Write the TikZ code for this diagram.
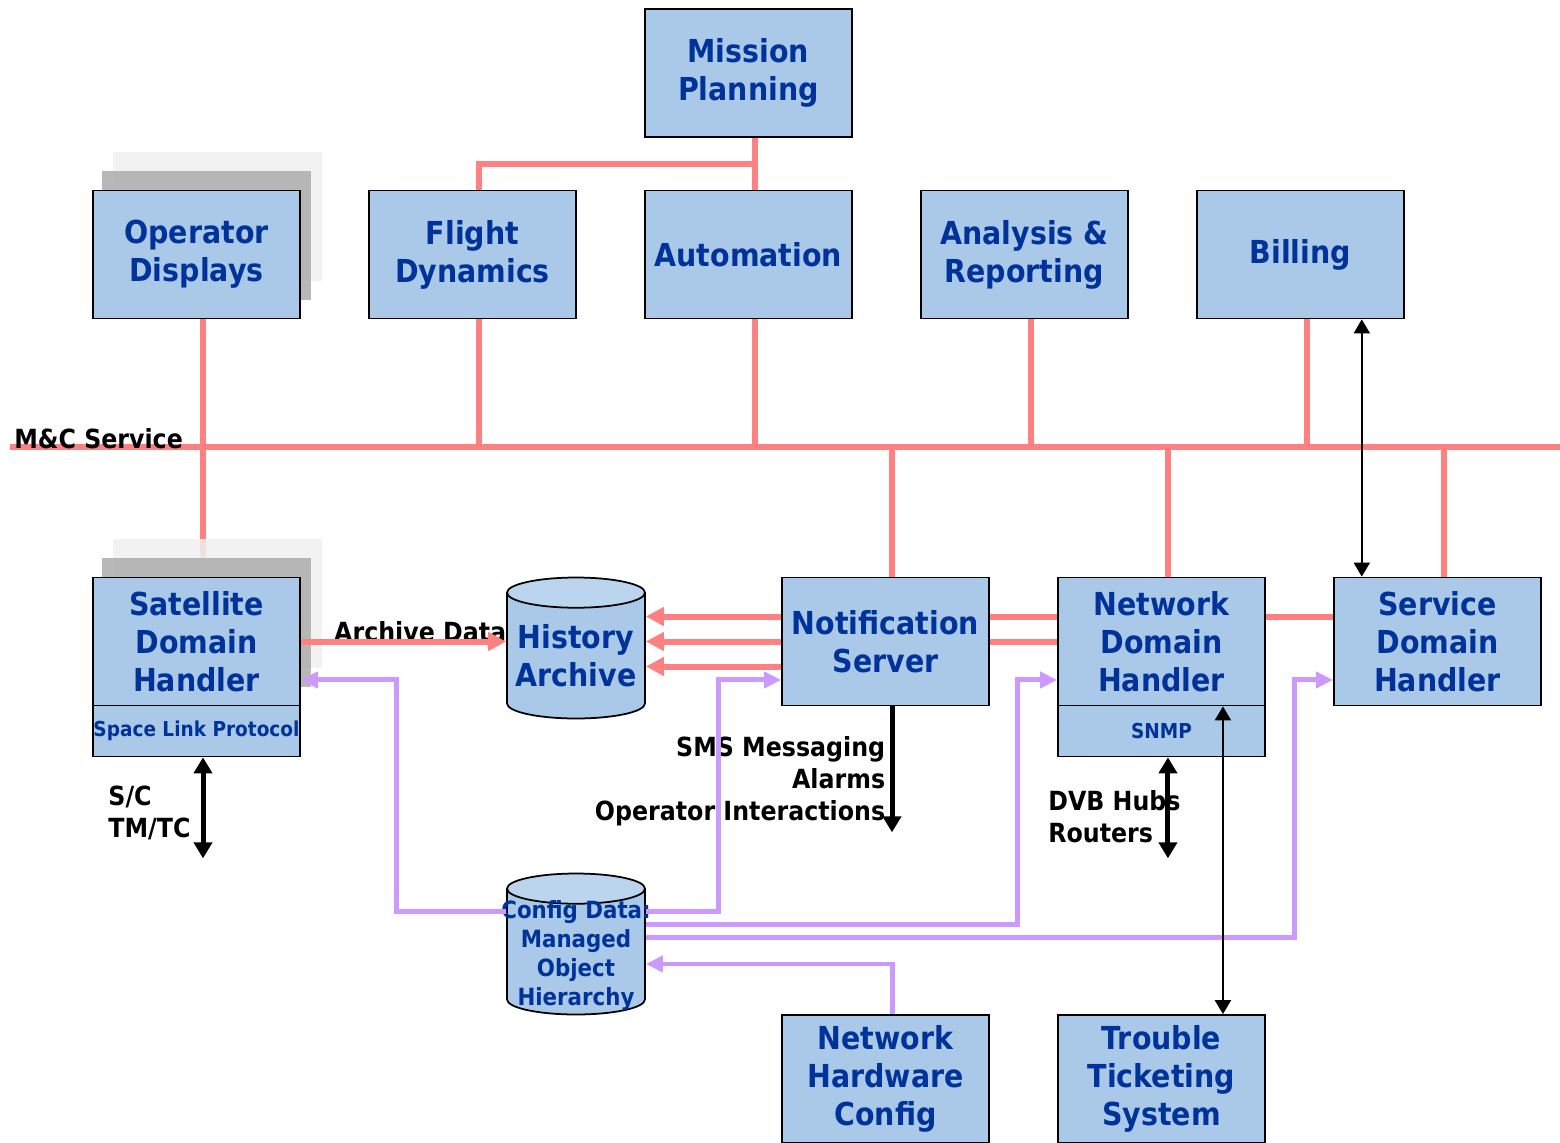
\documentclass[tikz,border=0pt]{standalone}
\usepackage{fontspec}
\setmainfont{DejaVu Sans}[FakeStretch=0.9]
\usepackage{tikz}
\usetikzlibrary{shapes.geometric,arrows.meta,positioning,backgrounds,calc}
\definecolor{boxfill}{RGB}{170,200,232}
\definecolor{capfill}{RGB}{187,213,238}
\definecolor{boxtext}{RGB}{0,51,153}
\definecolor{mcline}{RGB}{255,128,128}
\definecolor{cfgline}{RGB}{204,153,255}

\begin{document}
\begin{tikzpicture}[
    x=0.02cm, y=-0.02cm,
    node distance=1.03cm and 1.345cm,
    component/.style={rectangle, draw, line width=1pt, fill=boxfill, text=boxtext, font=\fontsize{18}{21.6}\selectfont\bfseries, align=center, minimum width=4.14cm, minimum height=2.56cm, inner sep=0pt},
    subpart/.style={component, minimum height=1.02cm, font=\fontsize{11.7}{14}\selectfont\bfseries},
    store/.style={cylinder, shape border rotate=90, aspect=0.25, draw, line width=1pt, cylinder uses custom fill, cylinder body fill=boxfill, cylinder end fill=capfill, text=boxtext, font=\fontsize{18}{21.6}\selectfont\bfseries, align=center, minimum width=2.76cm, minimum height=2.82cm, inner sep=0pt},
    shadowdark/.style={fill=gray!62, fill opacity=.9},
    shadowlight/.style={fill=gray!12, fill opacity=.85},
    mc/.style={mcline, line width=0.12cm},
    cfg/.style={cfgline, line width=0.1cm},
    lnx/.style={xshift=0.13cm},
    lbl/.style={font=\fontsize{15}{18.2}\selectfont\bfseries, inner sep=0pt},
    mcarrow/.style={mc, -{Triangle[length=0.36cm,width=0.36cm]}},
    cfgarrow/.style={cfg, -{Triangle[length=0.34cm,width=0.32cm]}},
    feed/.style={line width=0.1cm, {Triangle[length=0.32cm,width=0.36cm]}-{Triangle[length=0.32cm,width=0.36cm]}},
    feedout/.style={line width=0.1cm, -{Triangle[length=0.32cm,width=0.36cm]}},
    link/.style={line width=0.04cm, {Triangle[length=0.28cm,width=0.32cm]}-{Triangle[length=0.28cm,width=0.32cm]}}
]
    \useasboundingbox (0,0) rectangle (1560,1143);

    % top row
    \node[component] (ops) at (196.5,254.5) {Operator\\Displays};
    \node[component, right=of ops] (fd) {Flight\\Dynamics};
    \node[component, right=of fd] (auto) {Automation};
    \node[component, right=of auto] (ana) {Analysis \&\\Reporting};
    \node[component, right=of ana] (bill) {Billing};
    \node[component, above=of auto] (mp) {Mission\\Planning};

    % handlers and stores
    \node[component] (sdh) at (196.5,641.5) {Satellite\\Domain\\Handler};
    \node[subpart, below=-1pt of sdh] (slp) {Space Link Protocol};
    \node[component] (notif) at (885.5,641.5) {Notification\\Server};
    \node[component, right=of notif] (ndh) {Network\\Domain\\Handler};
    \node[subpart, below=-1pt of ndh] (snmp) {SNMP};
    \node[component, right=of ndh] (svc) {Service\\Domain\\Handler};
    \node[store] (hist) at (576,656) {History\\Archive};
    \node[store] (cfg) at (576,952) {\phantom{History}\\\phantom{Archive}};
    \node[text=boxtext, font=\fontsize{13.5}{16.5}\selectfont\bfseries, align=center, inner sep=0pt] (cfgtext) at ([yshift=-0.08cm]cfg.center) {\makebox[0pt]{Config Data:}\\Managed\\Object\\Hierarchy};
    \node[component] (nhc) at (885.5,1079) {Network\\Hardware\\Config};
    \node[component, right=of nhc] (ttk) {Trouble\\Ticketing\\System};

    % stacked copies behind
    \begin{pgfonlayer}{background}
        \draw[mc] ([lnx]ops.south) -- ([lnx]sdh.north);
        \foreach \n in {ops,sdh} {
            \fill[shadowlight] ($(\n.south west)+(21,-38)$) rectangle ($(\n.north east)+(21,-38)$);
            \fill[shadowdark] ($(\n.south west)+(10,-19)$) rectangle ($(\n.north east)+(10,-19)$);
        }
    \end{pgfonlayer}

    % M&C service bus
    \coordinate (busW) at (10,447);
    \coordinate (busE) at (1560,447);
    \draw[mc] (busW) -- (busE);
    \node[lbl, anchor=base west] (mclbl) at (14,448) {M\&C Service};
    \foreach \n in {fd,auto,ana,bill}
        \draw[mc] ([lnx]\n.south) -- ([lnx]\n.south |- busW);
    \foreach \n in {notif,ndh,svc}
        \draw[mc] ([lnx]\n.north) -- ([lnx]\n.north |- busW);
    \draw[mc] ([lnx]mp.south) -- ([lnx]auto.north);
    \draw[mc] ([lnx]fd.north) |- ($([lnx]mp.south)!.5!([lnx]auto.north)$);

    % archive
    \node[lbl, anchor=base west] (arclbl) at ([xshift=0.66cm]sdh.east) {Archive Data};
    \draw[mcarrow] (sdh.east) -- (sdh.east -| hist.west);
    \foreach \dy in {0.5cm,0cm,-0.5cm}
        \draw[mcarrow] ([yshift=\dy]notif.west) -- ([yshift=\dy]notif.west -| hist.east);
    \foreach \dy in {0.5cm,0cm}
        \draw[mc] ([yshift=\dy]notif.east) -- ([yshift=\dy]ndh.west);
    \draw[mc] ([yshift=0.5cm]ndh.east) -- ([yshift=0.5cm]svc.west);

    % external feeds
    \coordinate (tmtcEnd) at ($([lnx]slp.south)+(0,-2.02cm)$);
    \draw[feed] ([lnx]slp.south) -- node[lbl, left, align=left, pos=.55, xshift=-0.2cm] (tmtc) {S/C\\TM/TC} (tmtcEnd);
    \node[lbl, anchor=east, align=right] (alarmlbl) at ([yshift=-1.5cm]notif.south) {SMS Messaging\\Alarms\\Operator Interactions};
    \coordinate (alarmEnd) at ($([lnx]notif.south)+(0,-2.52cm)$);
    \draw[feedout] ([lnx]notif.south) -- (alarmEnd);
    \node[lbl, anchor=west, align=left] (dvblbl) at (1048,817) {DVB Hubs\\Routers};
    \coordinate (dvbEnd) at ($([lnx]snmp.south)+(0,-2.02cm)$);
    \draw[feed] ([lnx]snmp.south) -- (dvbEnd);

    % config distribution
    \draw[cfgarrow] ([yshift=0.82cm]cfg.west) -- ++(-2.2cm,0) |- ([yshift=-0.77cm]sdh.east);
    \draw[cfgarrow] ([yshift=0.82cm]cfg.east) -- ++(1.46cm,0) |- ([yshift=-0.77cm]notif.west);
    \draw[cfgarrow] ([yshift=0.56cm]cfg.east) -- ++(7.44cm,0) |- ([yshift=-0.77cm]ndh.west);
    \draw[cfgarrow] ([yshift=0.3cm]cfg.east) -- ++(12.98cm,0) |- ([yshift=-0.77cm]svc.west);
    \draw[cfgarrow] ([lnx]nhc.north) |- ([yshift=-0.24cm]cfg.east);

    \draw[link] ([xshift=1.23cm]bill.south) -- ([xshift=1.23cm]bill.south |- svc.north);
    \draw[link] ([xshift=1.23cm]ndh.south) -- ([xshift=1.23cm]ndh.south |- ttk.north);
\end{tikzpicture}
\end{document}
